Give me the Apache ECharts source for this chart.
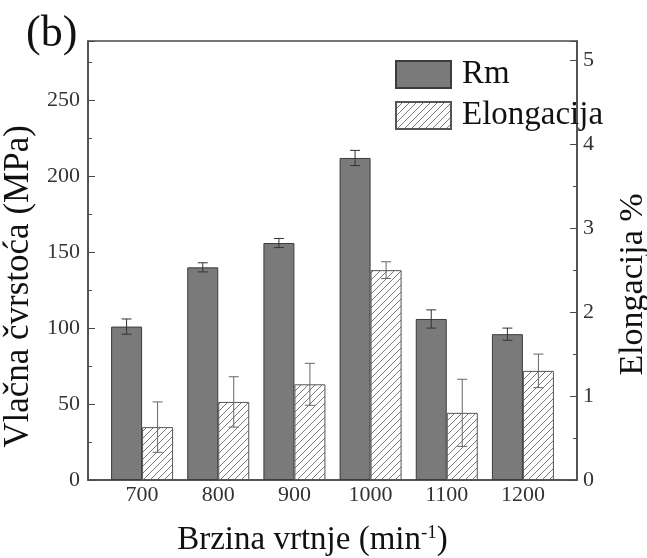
<!DOCTYPE html>
<html>
<head>
<meta charset="utf-8">
<script src="https://cdn.jsdelivr.net/npm/echarts@6/dist/echarts.min.js"></script>
<style>
  html, body { margin: 0; padding: 0; background: #fff; }
  #chart { width: 647px; height: 558px; }
</style>
</head>
<body>
<div id="chart"></div>
<script>
  // brzina vrtnje (min-1)
  const speeds = [700, 800, 900, 1000, 1100, 1200];
  // Rm (MPa) i greska
  const rmValues = [101, 140, 156, 212, 106, 96];
  const rmErrors = [5, 3, 3, 5, 6, 4];
  // elongacija (%) i greska
  const elValues = [0.63, 0.93, 1.14, 2.5, 0.8, 1.3];
  const elErrors = [0.3, 0.3, 0.25, 0.1, 0.4, 0.2];

  const serif = '"Liberation Serif", "Times New Roman", serif';
  const BAR_W = 31;

  // srafura za elongaciju
  function hatch() {
    let c = document.createElement('canvas');
    c.width = 7; c.height = 7;
    let ctx = c.getContext('2d');
    ctx.fillStyle = '#fff';
    ctx.fillRect(0, 0, 7, 7);
    ctx.strokeStyle = '#6a6a6a';
    ctx.lineWidth = 0.9;
    ctx.beginPath();
    ctx.moveTo(-1, 8); ctx.lineTo(8, -1);
    ctx.moveTo(-1, 1); ctx.lineTo(1, -1);
    ctx.moveTo(6, 8); ctx.lineTo(8, 6);
    ctx.stroke();
    return c;
  }

  function errorBar(offset, color) {
    return function (params, api) {
      let x = api.value(0), y = api.value(1), e = api.value(2);
      let top = api.coord([x, y + e]);
      let bot = api.coord([x, y - e]);
      let cx = top[0] + offset;
      let cap = 5;
      let style = { stroke: color, lineWidth: 1 };
      return {
        type: 'group',
        children: [
          { type: 'line', shape: { x1: cx, y1: top[1], x2: cx, y2: bot[1] }, style: style },
          { type: 'line', shape: { x1: cx - cap, y1: top[1], x2: cx + cap, y2: top[1] }, style: style },
          { type: 'line', shape: { x1: cx - cap, y1: bot[1], x2: cx + cap, y2: bot[1] }, style: style }
        ]
      };
    };
  }

  let chart = echarts.init(document.getElementById('chart'));
  let options = {
    backgroundColor: '#fff',
    animation: false,
    textStyle: { fontFamily: serif },
    graphic: [{
      type: 'text',
      left: 26, top: 12,
      style: { text: '(b)', font: '44px "Liberation Serif"', fill: '#111' }
    }],
    legend: {
      orient: 'vertical',
      left: 390, top: 53,
      itemWidth: 55,
      itemHeight: 27,
      itemGap: 8,
      icon: 'rect',
      textStyle: { fontSize: 33, fontFamily: serif, color: '#111', padding: [0, 0, 0, 6] },
      data: ['Rm', 'Elongacija']
    },
    grid: {
      left: 88, right: 70, top: 41, bottom: 78,
      outerBoundsMode: 'none',
      containLabel: false,
      show: true,
      borderColor: '#4a4a4a',
      borderWidth: 1.5
    },
    xAxis: {
      type: 'value',
      min: 629,
      max: 1271,
      name: '{a|Brzina vrtnje (min}{s|-1}{a|)}',
      nameLocation: 'middle',
      nameGap: 44,
      nameTextStyle: {
        padding: [0, 40, 0, 0],
        rich: {
          a: { fontSize: 33, fontFamily: serif, color: '#111' },
          s: { fontSize: 19, fontFamily: serif, color: '#111', verticalAlign: 'top' }
        }
      },
      axisLine: { lineStyle: { color: '#4a4a4a', width: 1.5 } },
      axisTick: { show: false },
      splitLine: { show: false },
      axisLabel: {
        customValues: speeds,
        formatter: v => String(v),
        fontSize: 22, fontFamily: serif, color: '#333', margin: 4
      }
    },
    yAxis: [{
      type: 'value',
      min: 0,
      max: 289,
      interval: 50,
      name: 'Vlačna čvrstoća (MPa)',
      nameLocation: 'middle',
      nameRotate: 90,
      nameGap: 46,
      nameTextStyle: { fontSize: 35, fontFamily: serif, color: '#111', padding: [0, 52, 0, 0] },
      axisLine: { show: true, lineStyle: { color: '#4a4a4a', width: 1.5 } },
      axisTick: { show: true, inside: true, length: 7, lineStyle: { color: '#4a4a4a' } },
      minorTick: { show: true, splitNumber: 2, length: 4, lineStyle: { color: '#4a4a4a' } },
      splitLine: { show: false },
      axisLabel: { showMaxLabel: false, fontSize: 22, fontFamily: serif, color: '#333', margin: 8 }
    }, {
      type: 'value',
      position: 'right',
      min: 0,
      max: 5.23,
      interval: 1,
      name: 'Elongacija %',
      nameLocation: 'middle',
      nameRotate: 90,
      nameGap: 39,
      nameTextStyle: { fontSize: 34, fontFamily: serif, color: '#111', padding: [0, 48, 0, 0] },
      axisLine: { show: true, lineStyle: { color: '#4a4a4a', width: 1.5 } },
      axisTick: { show: true, inside: true, length: 7, lineStyle: { color: '#4a4a4a' } },
      minorTick: { show: true, splitNumber: 2, length: 4, lineStyle: { color: '#4a4a4a' } },
      splitLine: { show: false },
      axisLabel: { showMaxLabel: false, fontSize: 22, fontFamily: serif, color: '#333', margin: 6 }
    }],
    series: [
      {
        name: 'Rm',
        type: 'bar',
        barWidth: BAR_W,
        barGap: '0%',
        data: speeds.map((s, i) => [s, rmValues[i]]),
        itemStyle: { color: '#7a7a7a', borderColor: '#3c3c3c', borderWidth: 1 }
      },
      {
        name: 'Elongacija',
        type: 'bar',
        yAxisIndex: 1,
        barWidth: BAR_W,
        barGap: '0%',
        data: speeds.map((s, i) => [s, elValues[i]]),
        itemStyle: { color: { image: hatch(), repeat: 'repeat' }, borderColor: '#555', borderWidth: 1 }
      },
      {
        type: 'custom',
        renderItem: errorBar(-BAR_W / 2, '#333'),
        data: speeds.map((s, i) => [s, rmValues[i], rmErrors[i]]),
        z: 10
      },
      {
        type: 'custom',
        yAxisIndex: 1,
        renderItem: errorBar(BAR_W / 2, '#666'),
        data: speeds.map((s, i) => [s, elValues[i], elErrors[i]]),
        z: 10
      }
    ]
  };
  chart.setOption(options);
</script>
</body>
</html>
